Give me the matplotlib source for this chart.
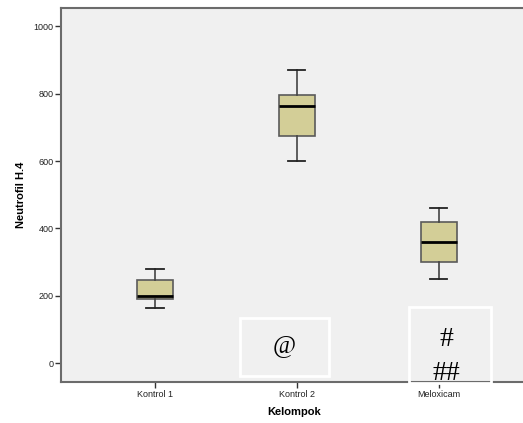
import matplotlib
matplotlib.use("Agg")
import matplotlib.pyplot as plt
from matplotlib.patches import Rectangle

categories = ["Kontrol 1", "Kontrol 2", "Meloxicam"]
whisker_low = [163, 600, 250]
q1 = [190, 674, 300]
median = [199, 763, 359]
q3 = [246, 795, 418]
whisker_high = [279, 869, 460]
yticks = [0, 200, 400, 600, 800, 1000]

W, H = 523, 423
fig = plt.figure(figsize=(W / 100, H / 100), dpi=100)
fig.patch.set_facecolor("white")

def fx(px):
    return px / W

def fy(py):
    return 1 - py / H

ax = fig.add_axes([fx(61), fy(382), fx(523) - fx(61) + 0.01, fy(8) - fy(382)])
ax.set_facecolor("#F0F0F0")

stats = []
for i, c in enumerate(categories):
    stats.append(dict(label=c, whislo=whisker_low[i], q1=q1[i], med=median[i],
                      q3=q3[i], whishi=whisker_high[i], fliers=[]))

bp = ax.bxp(stats, positions=list(range(len(categories))), widths=0.25,
            patch_artist=True, showfliers=False,
            boxprops=dict(facecolor="#D3CE97", edgecolor="#5a5a5a", linewidth=1.2),
            medianprops=dict(color="black", linewidth=2),
            whiskerprops=dict(color="#444444", linewidth=1.2),
            capprops=dict(color="#222222", linewidth=1.3),
            capwidths=0.12)

ax.set_xlim(-0.662, 2.592 + 0.01 * W / 142)
ax.set_ylim(-55.5, 1054)
ax.set_yticks(yticks)
ax.set_yticklabels([str(v) for v in yticks])
ax.set_xticks(range(len(categories)))
ax.set_xticklabels(categories)

for s in ["left", "bottom", "top"]:
    ax.spines[s].set_color("#6b6b6b")
    ax.spines[s].set_linewidth(1.5)
ax.spines["right"].set_visible(False)

ax.tick_params(axis="both", direction="out", length=4, width=1, color="#333333",
               labelsize=6.5, labelcolor="#222222", pad=1.5)
for lab in ax.get_xticklabels() + ax.get_yticklabels():
    lab.set_family("Liberation Sans")

ax.set_ylabel("Neutrofil H.4", fontsize=8, fontweight="bold", family="Liberation Sans", labelpad=5)
ax.set_xlabel("Kelompok", fontsize=8, fontweight="bold", family="Liberation Sans", labelpad=6)

# annotation boxes
r1 = Rectangle((fx(240), fy(376)), fx(329) - fx(240), fy(318) - fy(376),
               transform=fig.transFigure, fill=False, edgecolor="white", linewidth=2, zorder=5)
r2 = Rectangle((fx(409), fy(383)), fx(491) - fx(409), fy(307) - fy(383),
               transform=fig.transFigure, fill=False, edgecolor="white", linewidth=2, zorder=1)
fig.add_artist(r1)
fig.add_artist(r2)

fig.text(fx(284), fy(346), "@", family="Liberation Serif", fontsize=18,
         ha="center", va="center", zorder=10)
fig.text(fx(446), fy(339), "#", family="Liberation Serif", fontsize=20,
         ha="center", va="center", zorder=10)
fig.text(fx(446), fy(373), "##", family="Liberation Serif", fontsize=20,
         ha="center", va="center", zorder=10)

fig.savefig("out.png", dpi=100, facecolor="white")
